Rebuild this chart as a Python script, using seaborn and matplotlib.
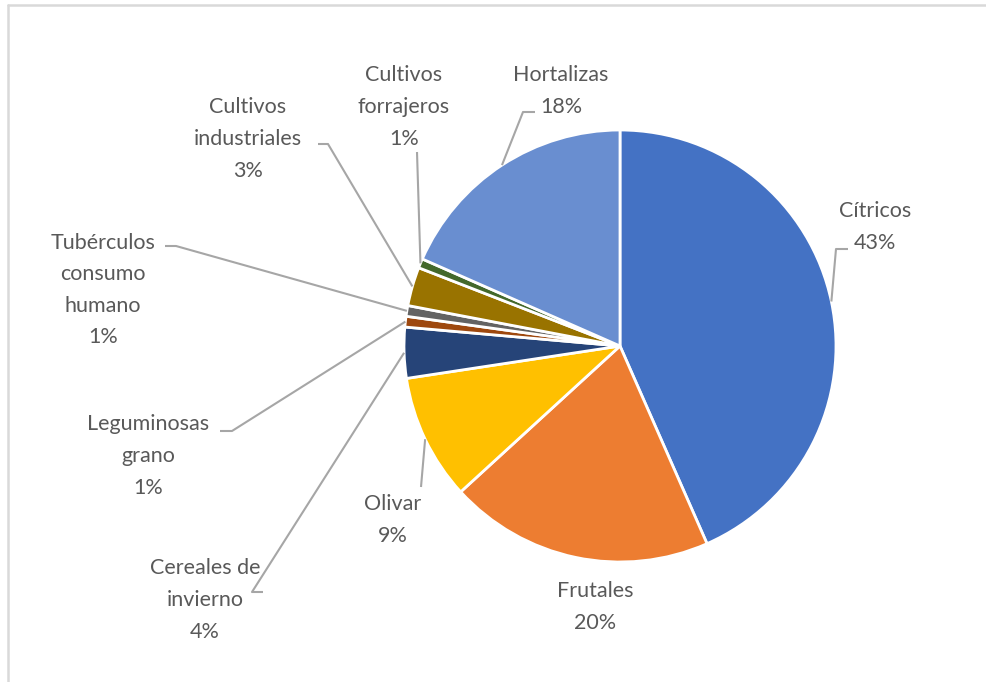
import numpy as np
import matplotlib
matplotlib.use("Agg")
import matplotlib.pyplot as plt
import seaborn as sns

categorias = ["Cítricos", "Frutales", "Olivar", "Cereales de\ninvierno", "Leguminosas\ngrano",
              "Tubérculos\nconsumo\nhumano", "Cultivos\nindustriales", "Cultivos\nforrajeros", "Hortalizas"]
porcentajes = [43.4, 19.8, 9.4, 3.8, 0.8, 0.8, 2.9, 0.7, 18.4]
colores = ["#4472C4", "#ED7D31", "#FFC000", "#264478", "#9E480E",
           "#636363", "#997300", "#43682B", "#698ED0"]

sns.set_theme(style="white")
plt.rcParams["font.family"] = ["Lato", "DejaVu Sans"]

W, H = 986, 682
CX, CY, R = 620, 346, 216

def px(x, y):
    return ((x - CX) / R, (CY - y) / R)

fig = plt.figure(figsize=(W / 100, H / 100), dpi=100)
ax = fig.add_axes([0, 0, 1, 1])
wedges, _ = ax.pie(porcentajes, colors=colores, startangle=90, counterclock=False,
                   wedgeprops=dict(edgecolor="white", linewidth=2))
ax.set_xlim(px(0, 0)[0], px(W, 0)[0])
ax.set_ylim(px(0, H)[1], px(0, 0)[1])
ax.set_aspect("equal")
ax.axis("off")

# label placement (pixel layout) and leader elbows
pos_texto = [(875, 227), (595, 607), (393, 520), (205, 600), (148, 456),
             (103, 290), (248, 139), (404, 107), (561, 91)]
guias = [[(848, 249), (836, 249)], None, [(421, 487)], [(263, 592), (252, 592)],
         [(220, 431), (232, 431)], [(165, 246), (176, 246)], [(318, 144), (328, 144)],
         [(417, 152)], [(535, 112), (523, 112)]]

for w, cat, p, xy, g in zip(wedges, categorias, porcentajes, pos_texto, guias):
    ax.text(*px(*xy), f"{cat}\n{round(p)}%", ha="center", va="center",
            fontsize=15.5, color="#595959", linespacing=1.72)
    if g:
        ang = np.deg2rad((w.theta1 + w.theta2) / 2)
        pts = [px(*q) for q in g] + [(np.cos(ang), np.sin(ang))]
        xs, ys = zip(*pts)
        ax.plot(xs, ys, color="#A6A6A6", lw=1.5, solid_capstyle="butt")

fig.add_artist(plt.Line2D([8 / W, 8 / W], [0, 1 - 5 / H], color="#D9D9D9", lw=1.8))
fig.add_artist(plt.Line2D([8 / W, 1], [1 - 5 / H, 1 - 5 / H], color="#D9D9D9", lw=1.8))

fig.savefig("out.png", dpi=100, facecolor="white")
